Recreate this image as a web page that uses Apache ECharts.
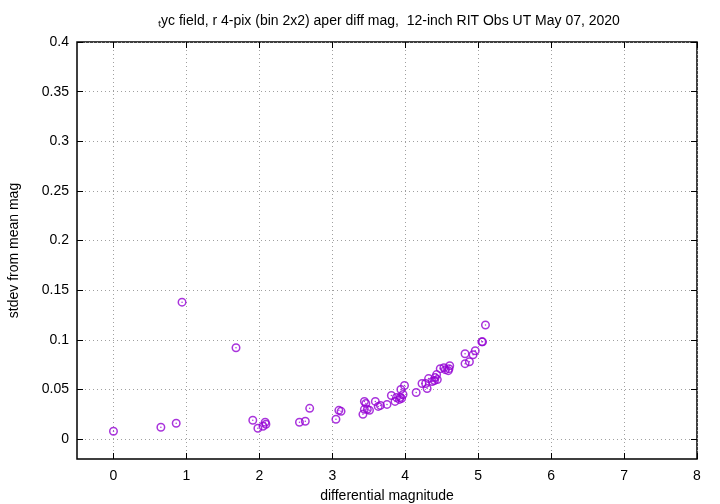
<!DOCTYPE html>
<html><head><meta charset="utf-8">
<script src="https://cdn.jsdelivr.net/npm/echarts@6/dist/echarts.min.js"></script>
<style>html,body{margin:0;padding:0;background:#fff}#c{width:720px;height:504px}</style>
</head><body><div id="c"></div>
<script>
var xTicks = [0,1,2,3,4,5,6,7,8];
var yTicks = [0,0.05,0.1,0.15,0.2,0.25,0.3,0.35,0.4];
var diffMag = [0.00,0.65,0.86,0.94,1.68,1.91,1.98,2.05,2.08,2.09,
  2.55,2.63,2.69,3.05,3.09,3.12,3.42,3.44,3.46,3.44,3.48,3.51,3.59,3.63,3.66,3.75,
  3.81,3.86,3.88,3.92,3.93,3.95,3.94,3.97,3.99,4.15,4.23,4.28,4.30,4.32,4.37,4.40,
  4.41,4.43,4.44,4.48,4.53,4.55,4.59,4.60,4.61,4.82,4.82,4.88,4.93,4.96,5.05,5.06,5.10];
var stdev = [0.008,0.012,0.016,0.138,0.092,0.019,0.011,0.013,0.017,0.015,
  0.017,0.018,0.031,0.020,0.029,0.028,0.025,0.030,0.036,0.038,0.030,0.029,0.038,0.033,0.034,0.035,
  0.044,0.038,0.042,0.040,0.042,0.041,0.050,0.045,0.054,0.047,0.056,0.056,0.051,0.061,0.058,0.059,
  0.062,0.065,0.060,0.071,0.072,0.070,0.069,0.071,0.074,0.076,0.086,0.078,0.085,0.089,0.098,0.098,0.115];
var pts = diffMag.map(function(x,i){return [x, stdev[i]];});
var purple = '#9400D3';
var font = 'Liberation Sans, Arial, sans-serif';
var chart = echarts.init(document.getElementById('c'), null, {renderer:'canvas'});
var grid = {left:77, right:23, top:42, bottom:45, show:true, borderColor:'#000', borderWidth:1.5,
  backgroundColor:'transparent', containLabel:false, outerBoundsMode:'none'};
var tickStyle = {color:'#000', width:1};
chart.setOption({
  animation:false,
  backgroundColor:'#fff',
  title:{text:'\u209Cyc field, r 4-pix (bin 2x2) aper diff mag,  12-inch RIT Obs UT May 07, 2020',
    left:384, top:9, textAlign:'center',
    textStyle:{fontFamily:font, fontSize:14, fontWeight:'normal', color:'#000'}},
  grid:grid,
  xAxis:[{type:'value', min:-0.5, max:8, position:'bottom',
    name:'differential magnitude', nameLocation:'middle', nameGap:30,
    nameTextStyle:{fontFamily:font, fontSize:14, color:'#000'},
    axisLine:{show:false, onZero:false},
    axisTick:{show:true, inside:true, length:6, customValues:xTicks, lineStyle:tickStyle},
    axisLabel:{customValues:xTicks, fontFamily:font, fontSize:14, color:'#000', margin:10},
    splitLine:{show:true, lineStyle:{color:'#a0a0a0', type:[1,3], width:1}}},
    {type:'value', min:-0.5, max:8, position:'top',
    axisLine:{show:false, onZero:false}, axisLabel:{show:false},
    axisTick:{show:true, inside:true, length:6, customValues:xTicks, lineStyle:tickStyle},
    splitLine:{show:false}}],
  yAxis:[{type:'value', min:-0.02, max:0.4, position:'left',
    name:'stdev from mean mag', nameLocation:'middle', nameGap:56, nameRotate:90,
    nameTextStyle:{fontFamily:font, fontSize:14, color:'#000'},
    axisLine:{show:false, onZero:false},
    axisTick:{show:true, inside:true, length:6, customValues:yTicks, lineStyle:tickStyle},
    axisLabel:{customValues:yTicks, fontFamily:font, fontSize:14, color:'#000', margin:8,
      formatter:function(v){return String(+v.toFixed(2));}},
    splitLine:{show:true, lineStyle:{color:'#a0a0a0', type:[1,3], width:1}}},
    {type:'value', min:-0.02, max:0.4, position:'right',
    axisLine:{show:false, onZero:false}, axisLabel:{show:false},
    axisTick:{show:true, inside:true, length:6, customValues:yTicks, lineStyle:tickStyle},
    splitLine:{show:false}}],
  series:[
    {type:'scatter', data:pts, symbol:'circle', symbolSize:7.5,
      itemStyle:{color:'rgba(0,0,0,0)', borderColor:purple, borderWidth:1.5}},
    {type:'scatter', data:pts, symbol:'circle', symbolSize:1.5,
      itemStyle:{color:purple}}
  ]
});
</script></body></html>
